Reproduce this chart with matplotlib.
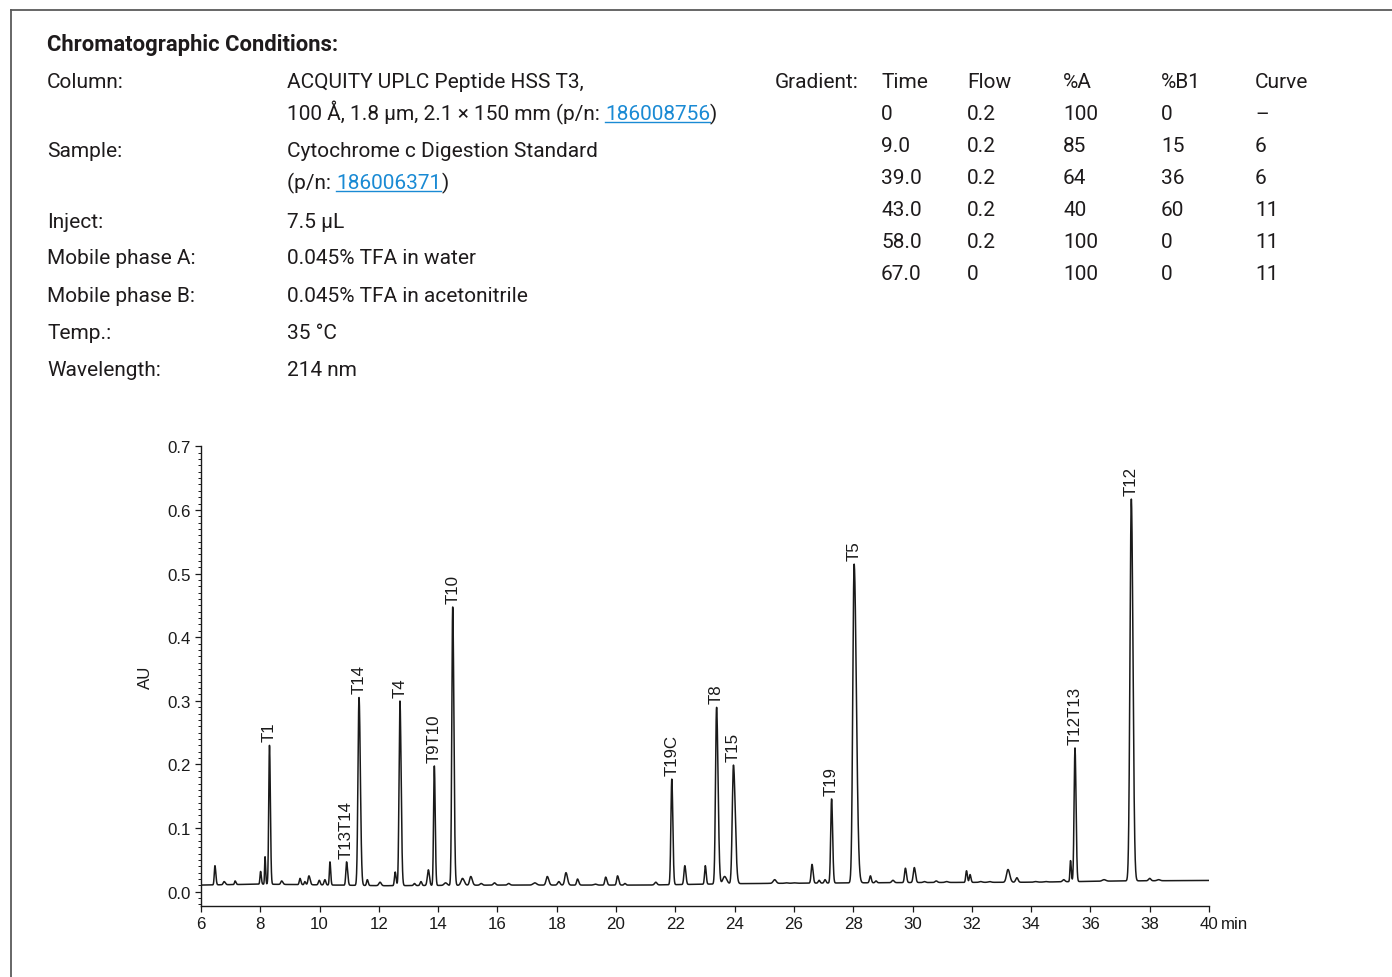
import numpy as np
import matplotlib
matplotlib.use("Agg")
import matplotlib.pyplot as plt
from matplotlib.lines import Line2D
from matplotlib.ticker import MultipleLocator

# ---------------- data ----------------
# chromatographic conditions (label, value)
cond_labels = ["Column:", "", "Sample:", "", "Inject:", "Mobile phase A:",
               "Mobile phase B:", "Temp.:", "Wavelength:"]
cond_values = ["ACQUITY UPLC Peptide HSS T3,",
               ["100 Å, 1.8 µm, 2.1 × 150 mm (p/n: ", "186008756", ")"],
               "Cytochrome c Digestion Standard",
               ["(p/n: ", "186006371", ")"],
               "7.5 µL", "0.045% TFA in water", "0.045% TFA in acetonitrile",
               "35 °C", "214 nm"]
cond_rows_y = [82, 114, 151, 183, 221, 258, 295, 333, 370]

grad_header = ["Time", "Flow", "%A", "%B1", "Curve"]
grad_time = ["0", "9.0", "39.0", "43.0", "58.0", "67.0"]
grad_flow = ["0.2", "0.2", "0.2", "0.2", "0.2", "0"]
grad_A = ["100", "85", "64", "40", "100", "100"]
grad_B1 = ["0", "15", "36", "60", "0", "0"]
grad_curve = ["–", "6", "6", "11", "11", "11"]

# chromatogram baseline (min, AU)
baseline_t = [6.0, 8.0, 12.2, 16.0, 21.0, 24.5, 30.0, 34.0, 37.0, 40.0]
baseline_au = [0.0105, 0.012, 0.0095, 0.0105, 0.0105, 0.013, 0.0145, 0.015, 0.017, 0.0178]

# peaks: retention time (min), apex (AU), left/right half-width (min)
peak_rt = [6.47, 6.78, 7.15, 8.01, 8.16, 8.31, 8.72, 9.34, 9.50, 9.64, 9.99, 10.18,
           10.35, 10.91, 11.33, 11.61, 12.04, 12.55, 12.71, 13.20, 13.42, 13.67,
           13.87, 14.25, 14.49, 14.82, 15.10, 15.45, 15.90, 16.38, 17.26, 17.68,
           18.07, 18.31, 18.70, 19.30, 19.65, 20.05, 20.30, 21.34, 21.88, 22.32,
           23.01, 23.39, 23.66, 23.96, 24.90, 25.35, 25.75, 26.00, 26.61, 26.85,
           27.05, 27.27, 28.03, 28.58, 28.77, 29.34, 29.76, 30.06, 30.40, 30.80,
           31.15, 31.82, 31.94, 32.30, 32.60, 33.22, 33.52, 34.15, 34.50, 35.10,
           35.33, 35.48, 36.46, 37.38, 38.00, 38.30]
peak_apex = [0.041, 0.016, 0.017, 0.032, 0.055, 0.2305, 0.017, 0.021, 0.016, 0.025, 0.018, 0.019,
             0.047, 0.047, 0.3055, 0.019, 0.015, 0.031, 0.300, 0.013, 0.016, 0.0345,
             0.198, 0.014, 0.448, 0.021, 0.024, 0.013, 0.014, 0.013, 0.014, 0.024,
             0.016, 0.030, 0.020, 0.012, 0.023, 0.025, 0.013, 0.015, 0.177, 0.041,
             0.041, 0.290, 0.024, 0.199, 0.013, 0.019, 0.014, 0.014, 0.043, 0.018,
             0.019, 0.146, 0.515, 0.025, 0.017, 0.018, 0.037, 0.038, 0.016, 0.017,
             0.016, 0.033, 0.027, 0.016, 0.016, 0.035, 0.022, 0.016, 0.016, 0.019,
             0.049, 0.226, 0.019, 0.617, 0.021, 0.019]
peak_wl = [0.022, 0.03, 0.02, 0.02, 0.015, 0.025, 0.03, 0.025, 0.02, 0.03, 0.03, 0.03,
           0.02, 0.025, 0.035, 0.025, 0.04, 0.025, 0.03, 0.03, 0.03, 0.035,
           0.025, 0.05, 0.03, 0.05, 0.04, 0.04, 0.04, 0.04, 0.06, 0.04,
           0.04, 0.04, 0.03, 0.05, 0.03, 0.03, 0.03, 0.04, 0.03, 0.03,
           0.025, 0.035, 0.06, 0.04, 0.04, 0.05, 0.05, 0.05, 0.03, 0.03,
           0.03, 0.03, 0.045, 0.03, 0.03, 0.04, 0.03, 0.035, 0.04, 0.04,
           0.05, 0.025, 0.025, 0.05, 0.05, 0.05, 0.04, 0.05, 0.05, 0.04,
           0.02, 0.03, 0.06, 0.045, 0.04, 0.05]
peak_wr = [0.03, 0.04, 0.03, 0.025, 0.02, 0.03, 0.04, 0.03, 0.03, 0.04, 0.03, 0.03,
           0.025, 0.035, 0.045, 0.03, 0.04, 0.03, 0.04, 0.03, 0.03, 0.035,
           0.03, 0.05, 0.04, 0.06, 0.05, 0.04, 0.04, 0.04, 0.06, 0.05,
           0.04, 0.05, 0.04, 0.05, 0.04, 0.04, 0.03, 0.04, 0.035, 0.035,
           0.03, 0.05, 0.07, 0.06, 0.04, 0.05, 0.05, 0.05, 0.035, 0.03,
           0.03, 0.035, 0.075, 0.03, 0.03, 0.04, 0.035, 0.04, 0.04, 0.04,
           0.05, 0.03, 0.03, 0.05, 0.05, 0.06, 0.04, 0.05, 0.05, 0.04,
           0.025, 0.035, 0.06, 0.055, 0.04, 0.05]

label_names = ["T1", "T13T14", "T14", "T4", "T9T10", "T10", "T19C", "T8", "T15",
               "T19", "T5", "T12T13", "T12"]
label_rt = [8.31, 10.91, 11.33, 12.71, 13.87, 14.49, 21.88, 23.39, 23.96,
            27.27, 28.03, 35.48, 37.38]

x_ticks = [6, 8, 10, 12, 14, 16, 18, 20, 22, 24, 26, 28, 30, 32, 34, 36, 38, 40]
y_ticks = [0.0, 0.1, 0.2, 0.3, 0.4, 0.5, 0.6, 0.7]

# ---------------- build trace ----------------
t = np.arange(6.0, 40.0001, 0.004)
base = np.interp(t, baseline_t, baseline_au)
signal = base.copy()
for rt, ap, wl, wr in zip(peak_rt, peak_apex, peak_wl, peak_wr):
    amp = ap - np.interp(rt, baseline_t, baseline_au)
    w = np.where(t < rt, wl, wr)
    signal += amp * np.exp(-0.5 * ((t - rt) / w) ** 2)

# ---------------- figure ----------------
W, H = 1392, 978
fig = plt.figure(figsize=(W / 100, H / 100), dpi=100)
fig.patch.set_facecolor("white")

# frame lines
frame_col = "#5a5a5a"
fig.add_artist(Line2D([10.5 / W, 1.0], [1 - 10.5 / H, 1 - 10.5 / H], transform=fig.transFigure,
                      color=frame_col, lw=1.3))
fig.add_artist(Line2D([10.5 / W, 10.5 / W], [0, 1 - 10.5 / H], transform=fig.transFigure,
                      color=frame_col, lw=1.3))

txt_col = "#1e1b1c"
link_col = "#1a8ad4"
hfont = "Roboto"
hsize = 15.0

renderer = fig.canvas.get_renderer()

def fx(px):
    return px / W

def fy(py):
    return 1 - py / H

fig.text(fx(47), fy(45), "Chromatographic Conditions:", fontsize=15.8, fontweight="bold",
         family=hfont, color=txt_col, va="center", ha="left")

for lab, val, y in zip(cond_labels, cond_values, cond_rows_y):
    yb = y + 6.5  # baseline
    if lab:
        fig.text(fx(47), fy(yb), lab, fontsize=hsize, family=hfont, color=txt_col,
                 va="baseline", ha="left")
    if isinstance(val, str):
        fig.text(fx(287), fy(yb), val, fontsize=hsize, family=hfont, color=txt_col,
                 va="baseline", ha="left")
    else:
        xcur = 287
        for i, part in enumerate(val):
            col = link_col if i == 1 else txt_col
            tt = fig.text(fx(xcur), fy(yb), part, fontsize=hsize, family=hfont, color=col,
                          va="baseline", ha="left")
            bb = tt.get_window_extent(renderer)
            if i == 1:
                fig.add_artist(Line2D([fx(xcur), fx(xcur + bb.width)], [fy(yb + 2.5), fy(yb + 2.5)],
                                      transform=fig.transFigure, color=link_col, lw=1.0))
            xcur += bb.width

# gradient table
grad_rows_y = [82, 114, 146, 178, 210, 242, 274]
grad_cols_x = [881, 967, 1063, 1161, 1255]
fig.text(fx(775), fy(grad_rows_y[0] + 6.5), "Gradient:", fontsize=hsize, family=hfont,
         color=txt_col, va="baseline", ha="left")
for cx, h in zip(grad_cols_x, grad_header):
    fig.text(fx(cx), fy(grad_rows_y[0] + 6.5), h, fontsize=hsize, family=hfont,
             color=txt_col, va="baseline", ha="left")
for r in range(len(grad_time)):
    vals = [grad_time[r], grad_flow[r], grad_A[r], grad_B1[r], grad_curve[r]]
    for cx, v in zip(grad_cols_x, vals):
        fig.text(fx(cx), fy(grad_rows_y[r + 1] + 6.5), v, fontsize=hsize, family=hfont,
                 color=txt_col, va="baseline", ha="left")

# ---------------- chromatogram axes ----------------
ax_left, ax_right = 201, 1209
ax_top, ax_bottom = 447.3, 906.7
ax = fig.add_axes([fx(ax_left), fy(ax_bottom), (ax_right - ax_left) / W, (ax_bottom - ax_top) / H])
ax.set_facecolor("none")
ax.plot(t, signal, color="#1a1a1a", lw=1.1, solid_joinstyle="round")
ax.set_xlim(6, 40)
ax.set_ylim(-0.0219, 0.7)
for s in ["top", "right"]:
    ax.spines[s].set_visible(False)
for s in ["left", "bottom"]:
    ax.spines[s].set_linewidth(1.0)
    ax.spines[s].set_color("#1a1a1a")
ax.spines["left"].set_bounds(-0.0219, 0.7)

tick_font = {"family": ["Liberation Sans", "DejaVu Sans"], "size": 12.2}
ax.set_xticks(x_ticks)
ax.set_xticklabels([str(v) for v in x_ticks], **tick_font)
ax.set_yticks(y_ticks)
ax.set_yticklabels([f"{v:.1f}" for v in y_ticks], **tick_font)
ax.yaxis.set_minor_locator(MultipleLocator(0.01))
ax.tick_params(axis="both", which="major", direction="out", length=4.5, width=0.9,
               color="#1a1a1a", labelcolor="#1a1a1a", pad=3)
ax.tick_params(axis="y", which="minor", direction="out", length=2.2, width=0.7, color="#1a1a1a")
ax.tick_params(axis="x", which="minor", bottom=False)
ax.set_ylabel("AU", fontdict=tick_font, labelpad=10, color="#1a1a1a")
ax.annotate("min", xy=(40, -0.0219), xycoords="data", xytext=(8.8, -7.6),
            textcoords="offset points", ha="left", va="top", color="#1a1a1a", **tick_font)

# peak labels
for name, rt in zip(label_names, label_rt):
    m = (t > rt - 0.1) & (t < rt + 0.1)
    top = signal[m].max()
    ax.annotate(name, xy=(rt, top), xytext=(0, 3), textcoords="offset points",
                rotation=90, ha="center", va="bottom", color="#1a1a1a", **tick_font)

fig.savefig("out.png", dpi=100, facecolor="white")
